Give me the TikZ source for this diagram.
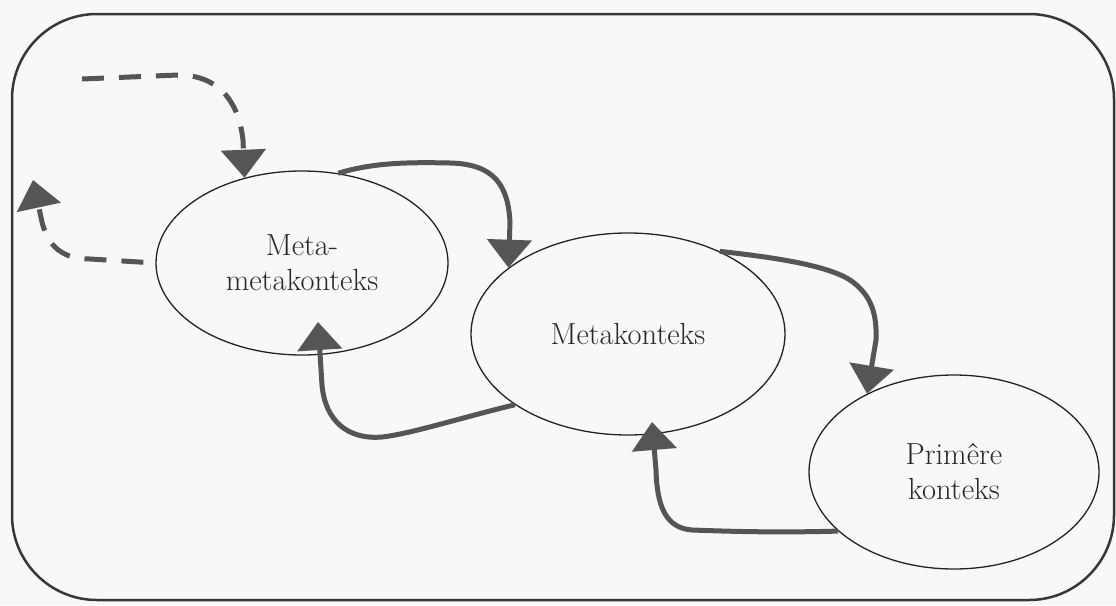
\documentclass[tikz,border=0pt]{standalone}
\usetikzlibrary{shapes.geometric,arrows.meta,calc}
\definecolor{arrowgray}{RGB}{85,85,85}
\definecolor{linegray}{RGB}{35,35,35}
\definecolor{framegray}{RGB}{55,55,55}
\definecolor{paper}{RGB}{248,248,248}
\definecolor{textgray}{RGB}{40,40,40}
\begin{document}
\begin{tikzpicture}[x=1pt,y=-1pt,
  ctx/.style={ellipse,draw=linegray,line width=1.3pt,inner sep=0pt,align=center,
    text=textgray,font=\fontsize{30.5}{35}\selectfont},
  flow/.style={draw=arrowgray,line width=5pt,-{Triangle[length=28pt,width=44pt]}},
  dflow/.style={flow,dash pattern=on 22pt off 15pt},
  frame/.style={draw=framegray,line width=2.5pt,rounded corners=85pt}
]
\fill[paper] (0,0) rectangle (1116,605);
\useasboundingbox (0,0) rectangle (1116,605);
\draw[frame] (12,14) rectangle (1114,600);

\node[ctx,minimum width=292pt,minimum height=184pt] (mm) at (302,263) {Meta-\\metakonteks};
\node[ctx,minimum width=314pt,minimum height=202pt] (mk) at (628,334) {Metakonteks};
\node[ctx,minimum width=290pt,minimum height=194pt] (pk) at (954,472) {Primêre\\konteks};

% Meta-metakonteks -> Metakonteks
\draw[flow] (mm.68) .. controls (372,163) and (405,162) .. (450,163)
  .. controls (494,164) and (508,185) .. (510,222) -- (mk.151);
% Metakonteks -> Primere konteks
\draw[flow] (mk.42) .. controls (780,258) and (828,266) .. (850,280)
  .. controls (872,295) and (877,315) .. (876,340) -- (pk.138);
% Primere konteks -> Metakonteks
\draw[flow] (pk.207) .. controls (770,533) and (720,531) .. (692,530)
  .. controls (665,528) and (657,505) .. (656,470) -- ($(mk.center)+(24,88)$);
% Metakonteks -> Meta-metakonteks
\draw[flow] (mk.212) .. controls (460,418) and (410,434) .. (382,437)
  .. controls (347,440) and (325,420) .. (322,385) -- ($(mm.center)+(16,59)$);

% dashed self loop (two open pieces)
\coordinate (e1) at (33,180);
\coordinate (f0) at (82,79);
\draw[dflow,shorten <=12pt] (mm.180) -- (90,259) .. controls (62,259) and (48,246) .. (42,222) -- (e1);
\draw[dflow] (f0) -- (178,75) .. controls (215,75) and (238,97) .. (243,140) -- (mm.124);
\end{tikzpicture}
\end{document}
